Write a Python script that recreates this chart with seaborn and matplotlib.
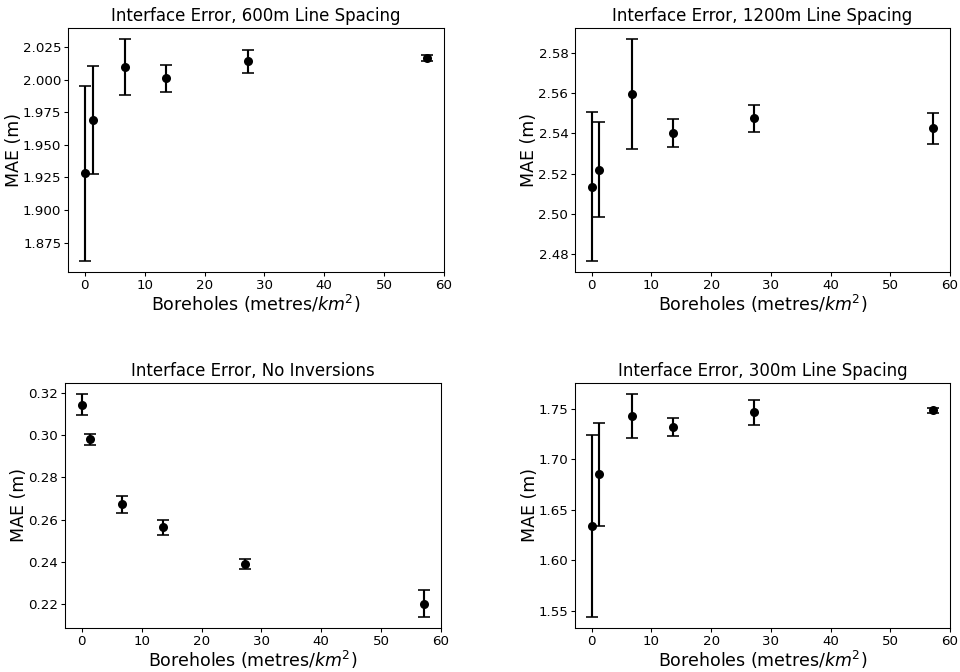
import matplotlib
matplotlib.use("Agg")
import matplotlib.pyplot as plt
import seaborn as sns
import numpy as np
import pandas as pd

sns.set_style("ticks")
plt.rcParams['font.family'] = ['DejaVu Sans']
plt.rcParams['text.color'] = 'black'
plt.rcParams['axes.labelcolor'] = 'black'
plt.rcParams['xtick.color'] = 'black'
plt.rcParams['ytick.color'] = 'black'

boreholes = [0.1, 1.3, 6.8, 13.6, 27.2, 57.2]

titles = ["Interface Error, 600m Line Spacing",
          "Interface Error, 1200m Line Spacing",
          "Interface Error, No Inversions",
          "Interface Error, 300m Line Spacing"]

mae_600 = [1.928, 1.969, 2.0095, 2.001, 2.014, 2.0165]
err_600 = [0.067, 0.0415, 0.0215, 0.0103, 0.009, 0.0025]

mae_1200 = [2.5135, 2.522, 2.5595, 2.540, 2.5475, 2.5425]
err_1200 = [0.037, 0.0235, 0.0275, 0.007, 0.0066, 0.0078]

mae_none = [0.3145, 0.298, 0.2673, 0.2563, 0.239, 0.2202]
err_none = [0.0050, 0.0026, 0.0040, 0.0037, 0.0023, 0.0063]

mae_300 = [1.634, 1.685, 1.743, 1.732, 1.7465, 1.7485]
err_300 = [0.090, 0.051, 0.0215, 0.009, 0.0125, 0.0027]

series = [(mae_600, err_600), (mae_1200, err_1200), (mae_none, err_none), (mae_300, err_300)]

fig = plt.figure(figsize=(10, 7), dpi=96)
positions = [
    (68, 28, 444, 272),
    (575, 28, 950, 272),
    (65, 383, 441, 628),
    (575, 383, 950, 628),
]
W, H = 960, 672
for (l, t, r, b), title, (m, e) in zip(positions, titles, series):
    ax = fig.add_axes([l / W, 1 - b / H, (r - l) / W, (b - t) / H])
    df = pd.DataFrame({"x": boreholes, "y": m, "e": e})
    ax.errorbar(df["x"], df["y"], yerr=df["e"], fmt="none", ecolor="black",
                elinewidth=1.6, capsize=4.5, capthick=1.2, zorder=2)
    sns.scatterplot(data=df, x="x", y="y", ax=ax, color="black", s=46,
                    edgecolor="black", linewidth=0, zorder=3, legend=False)
    ax.set_xlim(-2.8, 60)
    ax.set_xticks([0, 10, 20, 30, 40, 50, 60])
    ax.set_title(title, fontsize=12.5, pad=5)
    ax.set_xlabel("Boreholes (metres/$km^2$)", fontsize=13, labelpad=1)
    ax.set_ylabel("MAE (m)", fontsize=13, labelpad=0)
    ax.tick_params(labelsize=10, length=3, width=0.8, pad=2)
    for s in ax.spines.values():
        s.set_linewidth(0.8)
        s.set_color("black")

ax0 = fig.axes[0]
ax0.yaxis.set_major_formatter(matplotlib.ticker.FormatStrFormatter("%.3f"))

fig.savefig("out.png", dpi=96)
